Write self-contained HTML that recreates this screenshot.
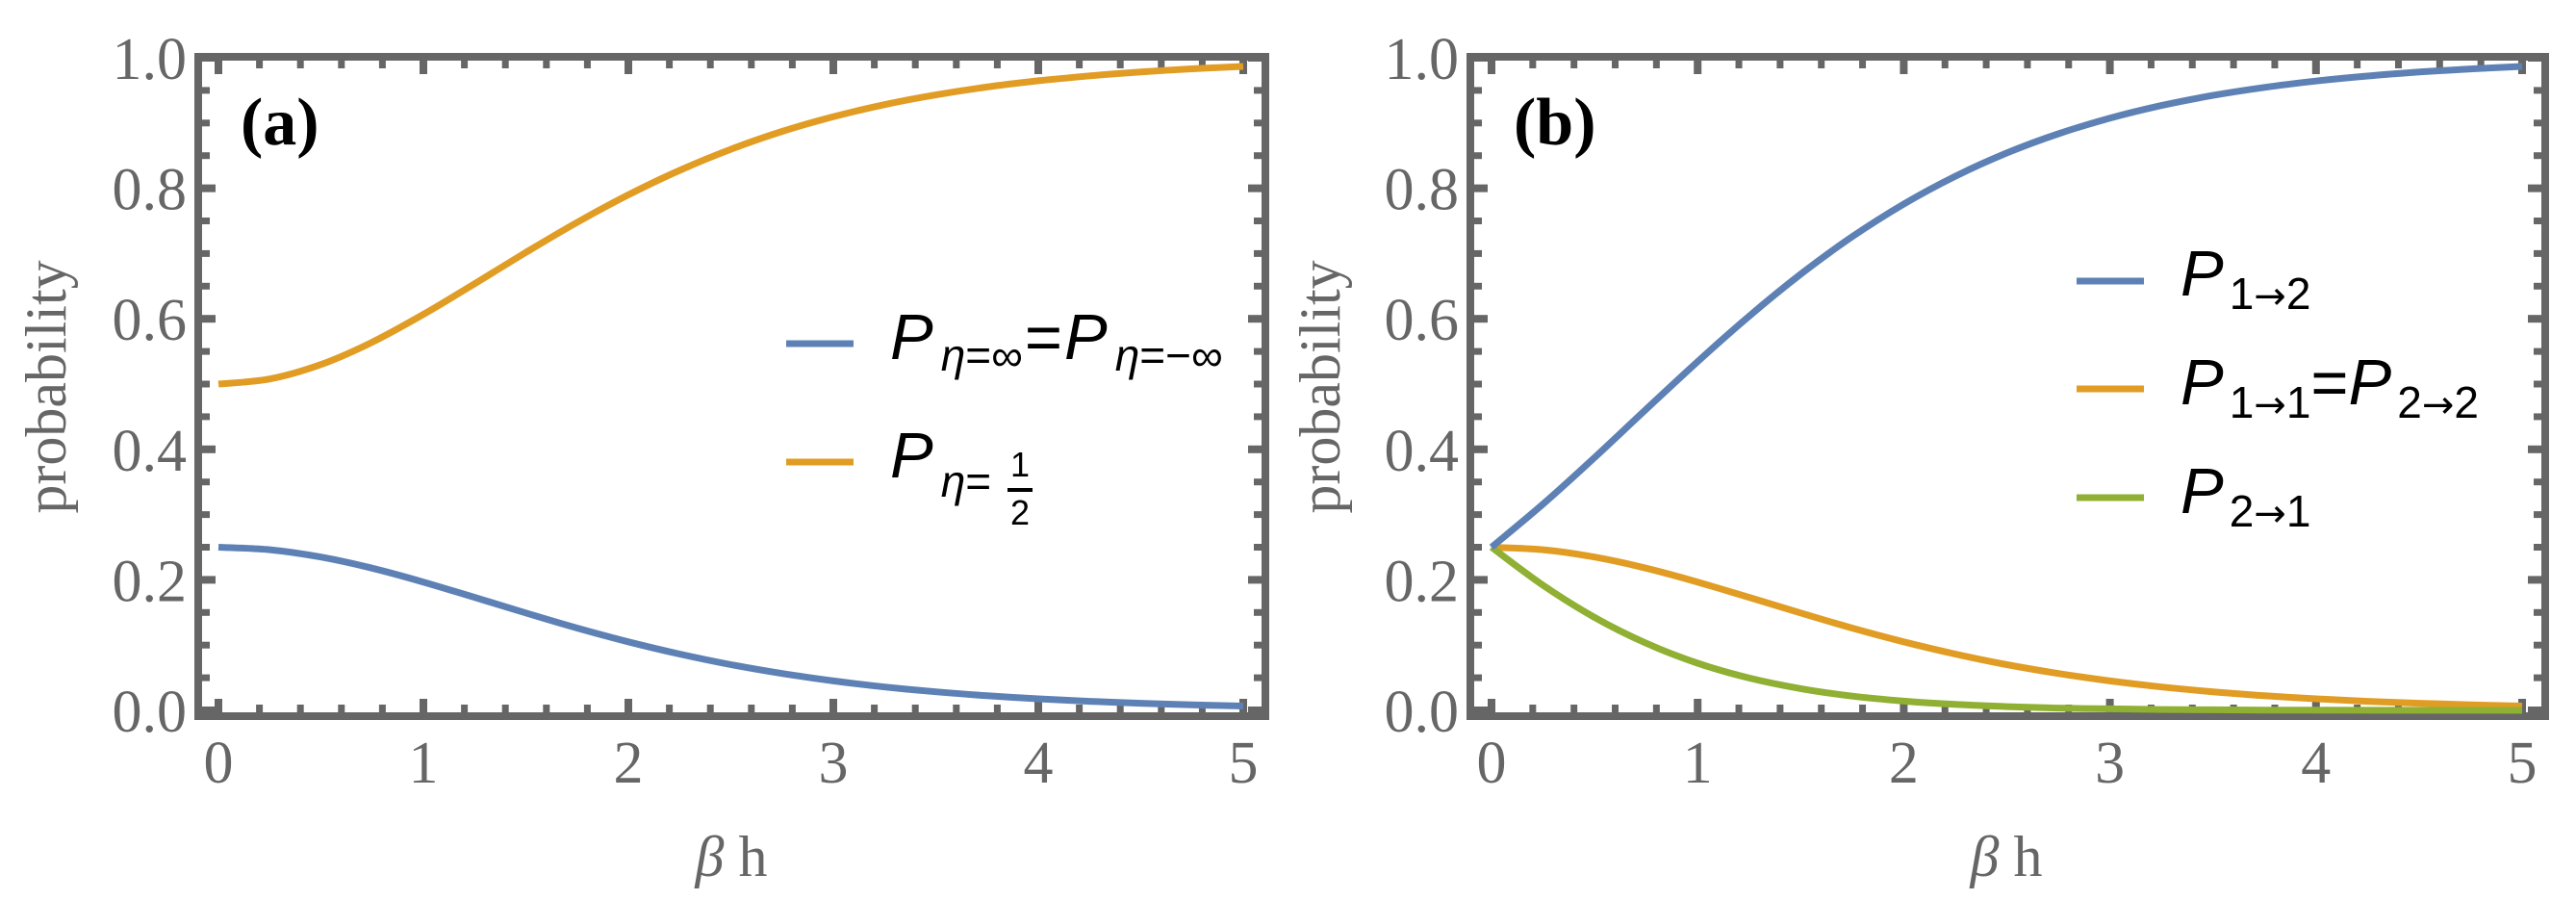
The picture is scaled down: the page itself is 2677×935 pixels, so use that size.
<!DOCTYPE html>
<html><head><meta charset="utf-8"><style>
html,body{margin:0;padding:0;background:#fff;}
svg{display:block;}
.tk{font-family:"Liberation Serif",serif;font-size:62px;fill:#666;}
.ttl{font-family:"Liberation Serif",serif;font-size:60px;fill:#666;}
.lg{font-family:"Liberation Sans",sans-serif;fill:#000;}
.ar{font-family:"DejaVu Sans",sans-serif;font-size:40px;}
</style></head><body>
<svg id="chart" width="2677" height="935" viewBox="0 0 2677 935" xmlns="http://www.w3.org/2000/svg">
<g id="pa"></g>
<g id="pb"></g>
<text x="250" y="150" font-family="Liberation Serif,serif" font-weight="bold" font-size="70">(a)</text>
<text x="1573" y="150" font-family="Liberation Serif,serif" font-weight="bold" font-size="70">(b)</text>
<text class="ttl" x="760" y="910" text-anchor="middle"><tspan font-style="italic">β</tspan> h</text>
<text class="ttl" x="2085" y="910" text-anchor="middle"><tspan font-style="italic">β</tspan> h</text>
<text class="ttl" transform="translate(68,402) rotate(-90)" text-anchor="middle">probability</text>
<text class="ttl" transform="translate(1392,402) rotate(-90)" text-anchor="middle">probability</text>
<g>
<line x1="817" y1="357" x2="887" y2="357" stroke="#5E81B5" stroke-width="7"/>
<text class="lg" x="925" y="373"><tspan font-style="italic" font-size="67">P</tspan><tspan font-size="46" dy="12" dx="8"><tspan font-style="italic">η</tspan>=∞</tspan><tspan font-size="67" dy="-12" dx="2">=</tspan><tspan font-style="italic" font-size="67" dx="2">P</tspan><tspan font-size="46" dy="12" dx="8"><tspan font-style="italic">η</tspan>=−∞</tspan></text>
<line x1="817" y1="480" x2="887" y2="480" stroke="#E19C24" stroke-width="7"/>
<text class="lg" x="925" y="496"><tspan font-style="italic" font-size="67">P</tspan><tspan font-size="46" dy="20" dx="8"><tspan font-style="italic">η</tspan>=</tspan></text>
<text class="lg" x="1060" y="495" font-size="36" text-anchor="middle">1</text>
<line x1="1047" y1="509" x2="1073" y2="509" stroke="#000" stroke-width="4"/>
<text class="lg" x="1060" y="545" font-size="36" text-anchor="middle">2</text>
</g>
<g>
<line x1="2158" y1="292" x2="2228" y2="292" stroke="#5E81B5" stroke-width="7"/>
<text class="lg" x="2266" y="307"><tspan font-style="italic" font-size="67">P</tspan><tspan font-size="46" dy="14" dx="6">1<tspan class="ar">→</tspan>2</tspan></text>
<line x1="2158" y1="404" x2="2228" y2="404" stroke="#E19C24" stroke-width="7"/>
<text class="lg" x="2266" y="420"><tspan font-style="italic" font-size="67">P</tspan><tspan font-size="46" dy="14" dx="6">1<tspan class="ar">→</tspan>1</tspan><tspan font-size="67" dy="-14">=</tspan><tspan font-style="italic" font-size="67">P</tspan><tspan font-size="46" dy="14" dx="6">2<tspan class="ar">→</tspan>2</tspan></text>
<line x1="2158" y1="517" x2="2228" y2="517" stroke="#8FB032" stroke-width="7"/>
<text class="lg" x="2266" y="533"><tspan font-style="italic" font-size="67">P</tspan><tspan font-size="46" dy="14" dx="6">2<tspan class="ar">→</tspan>1</tspan></text>
</g>
</svg>
<script>
const xs = [0,0.25,0.5,0.75,1,1.25,1.5,1.75,2,2.25,2.5,2.75,3,3.25,3.5,3.75,4,4.25,4.5,4.75,5];
const aBlue = [.25,.2461,.2350,.2179,.1966,.1731,.1492,.1261,.1050,.0863,.0701,.0565,.0452,.0359,.0285,.0224,.0177,.0139,.0109,.0085,.0067];
const aOrange = [.5,.5078,.53,.5642,.6068,.6538,.7017,.7478,.79,.8275,.8598,.8871,.9096,.9282,.9431,.9552,.9647,.9722,.9783,.9830,.9867];
const bBlue = [.25,.3161,.3875,.4613,.5344,.6042,.6684,.7258,.7758,.8184,.8541,.8835,.9074,.9268,.9423,.9546,.9643,.9720,.9781,.9829,.9867];
const bOrange = [.25,.2461,.2350,.2179,.1966,.1731,.1492,.1261,.1050,.0863,.0701,.0565,.0452,.0359,.0285,.0224,.0177,.0139,.0109,.0085,.0067];
const bGreen = [.25,.1917,.1425,.1029,.0723,.0496,.0333,.0219,.0142,.0091,.0058,.0036,.0023,.0014,.0009,.0005,.0003,.0002,.0001,.0001,0];
const xTicks = [0,1,2,3,4,5];
const yTicks = [0,0.2,0.4,0.6,0.8,1.0];
const yTickLabels = ["0.0","0.2","0.4","0.6","0.8","1.0"];
const NS = "http://www.w3.org/2000/svg";
function mk(tag, attrs, parent){const e=document.createElementNS(NS,tag);for(const k in attrs)e.setAttribute(k,attrs[k]);parent.appendChild(e);return e;}
function panel(g, L, R, x0, xs5, name){
  const T=59, B=744;
  const X=v=>x0+v*(xs5-x0)/5;
  const Y=v=>738-678*v;
  const fr=mk('rect',{x:L,y:T,width:R-L,height:B-T,fill:'none',stroke:'#666','stroke-width':8},g);
  
  
  for(let i=0;i<=25;i++){const v=i*0.2;const maj=i%5===0;const len=maj?14:8;const px=X(v);
    const t1=mk('line',{x1:px,x2:px,y1:B-4,y2:B-4-len,stroke:'#666','stroke-width':maj?8:7},g);
    
    
    const t2=mk('line',{x1:px,x2:px,y1:T+4,y2:T+4+len,stroke:'#666','stroke-width':maj?8:7},g);
    
    
  }
  for(let i=0;i<=20;i++){const v=i*0.05;const maj=i%4===0;const len=maj?14:8;const py=Y(v);
    const t1=mk('line',{x1:L+4,x2:L+4+len,y1:py,y2:py,stroke:'#666','stroke-width':maj?8:7},g);
    
    
    const t2=mk('line',{x1:R-4,x2:R-4-len,y1:py,y2:py,stroke:'#666','stroke-width':maj?8:7},g);
    
    
  }
  xTicks.forEach(v=>{const t=mk('text',{x:X(v),y:813,'text-anchor':'middle','class':'tk'},g);t.textContent=String(v);
    
    });
  yTicks.forEach((v,i)=>{const t=mk('text',{x:L-12,y:Y(v)+22,'text-anchor':'end','class':'tk'},g);t.textContent=yTickLabels[i];
    
    });
  return {X,Y};
}
function curve(g, ax, vals, color, name){
  const P=xs.map((x,i)=>[ax.X(x),ax.Y(vals[i])]);
  let d='M'+P[0][0].toFixed(1)+','+P[0][1].toFixed(1);
  for(let i=0;i<P.length-1;i++){
    const p0=P[Math.max(i-1,0)],p1=P[i],p2=P[i+1],p3=P[Math.min(i+2,P.length-1)];
    const c1=[p1[0]+(p2[0]-p0[0])/6,p1[1]+(p2[1]-p0[1])/6];
    const c2=[p2[0]-(p3[0]-p1[0])/6,p2[1]-(p3[1]-p1[1])/6];
    d+=' C'+c1.map(n=>n.toFixed(1)).join(',')+' '+c2.map(n=>n.toFixed(1)).join(',')+' '+p2.map(n=>n.toFixed(1)).join(',');
  }
  const p=mk('path',{d:d,fill:'none',stroke:color,'stroke-width':7,'stroke-linejoin':'round'},g);
  
  
}
const ga=document.getElementById('pa'), gb=document.getElementById('pb');
const axA=panel(ga,206,1315,227,1292,'panel-a');
const axB=panel(gb,1528,2645,1550,2621,'panel-b');
curve(ga,axA,aOrange,'#E19C24','line-p-eta-half');
curve(ga,axA,aBlue,'#5E81B5','line-p-eta-inf');
curve(gb,axB,bOrange,'#E19C24','line-p11-p22');
curve(gb,axB,bGreen,'#8FB032','line-p21');
curve(gb,axB,bBlue,'#5E81B5','line-p12');
</script>
</body></html>
